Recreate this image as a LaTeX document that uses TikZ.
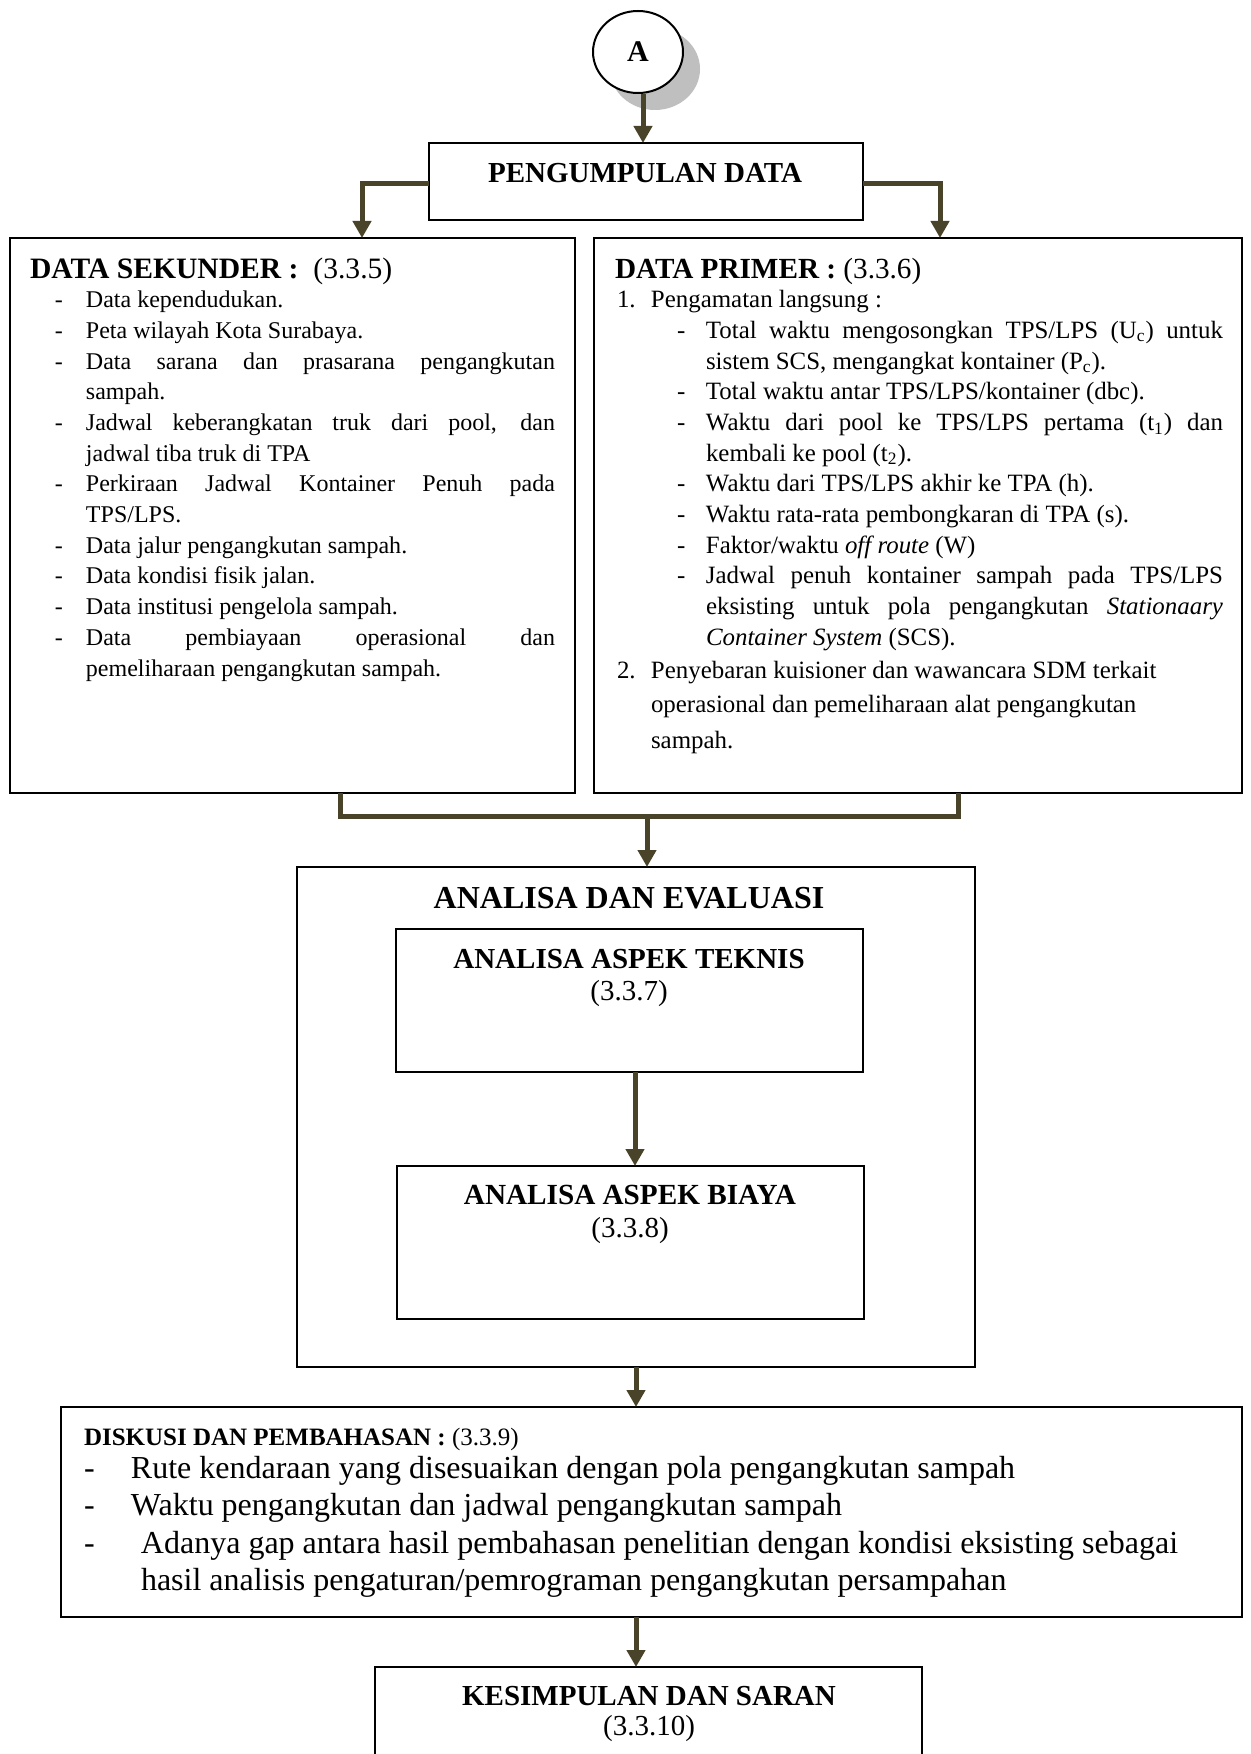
\documentclass[tikz,border=0pt]{standalone}
\usepackage{fontspec}
\setmainfont{Liberation Serif}
\usetikzlibrary{arrows.meta,shapes.geometric,shadows}
\definecolor{arrowcol}{RGB}{73,68,41}
\definecolor{shadowgray}{RGB}{191,191,191}
\newcommand{\fsz}[2]{\fontsize{#1}{#2}\selectfont}
% left box helpers
\newcommand{\LD}[1]{\hspace*{12.5pt}\makebox[15.5pt][l]{-}#1}
\newcommand{\LJ}[1]{\hspace*{12.5pt}\makebox[15.5pt][l]{-}\makebox[234.5pt][s]{#1}}
\newcommand{\LC}[1]{\hspace*{28pt}#1}
% right box helpers
\newcommand{\RN}[2]{\hspace*{1pt}\makebox[17pt][l]{#1}#2}
\newcommand{\RD}[1]{\hspace*{31pt}\makebox[14.5pt][l]{-}#1}
\newcommand{\RJ}[1]{\hspace*{31pt}\makebox[14.5pt][l]{-}\makebox[258.5pt][s]{#1}}
\newcommand{\RJC}[1]{\hspace*{45.5pt}\makebox[258.5pt][s]{#1}}
\newcommand{\RC}[1]{\hspace*{45.5pt}#1}
\begin{document}
\begin{tikzpicture}[x=0.5pt,y=-0.5pt,
  box/.style={draw=black, line width=1pt, inner sep=0pt, outer sep=0pt, rectangle},
  conn/.style={draw=arrowcol, line width=2.5pt},
  arr/.style={conn, -{Triangle[width=9pt,length=8.5pt]}},
  lbl/.style={inner sep=0pt, outer sep=0pt},
]
\useasboundingbox (0,0) rectangle (1251,1754);
\clip (0,0) rectangle (1251,1754);
\fill[white] (0,0) rectangle (1251,1754);

% circle A
\node[ellipse, draw=black, line width=1pt, fill=white, minimum width=45pt, minimum height=41pt, inner sep=0pt,
      drop shadow={shadow xshift=8.5pt,shadow yshift=-8.5pt,fill=shadowgray,opacity=1},
      font=\fsz{15}{18}\bfseries] (A) at (638,52) {A};

% boxes
\node[box, minimum width=217pt, minimum height=38.5pt] (pd) at (646,181.5) {};
\node[box, minimum width=282.5pt, minimum height=277.5pt] (ds) at (292.5,515.5) {};
\node[box, minimum width=324pt, minimum height=277.5pt] (dp) at (918,515.5) {};
\node[box, minimum width=339pt, minimum height=250pt] (ae) at (636,1117) {};
\node[box, minimum width=233.5pt, minimum height=71.5pt] (t1) at (629.5,1000.5) {};
\node[box, minimum width=233.5pt, minimum height=76.5pt] (t2) at (630.5,1242.5) {};
\node[box, minimum width=590.5pt, minimum height=105pt] (di) at (651.5,1512) {};
\node[box, minimum width=273.5pt, minimum height=66.5pt] (ks) at (648.5,1733.5) {};

% texts
\node[lbl, anchor=base, font=\fsz{14.5}{17}\bfseries] (pdt) at (645,183) {PENGUMPULAN DATA};

\node[lbl, anchor=base west] (dst) at (30,279) {\parbox[t]{270pt}{\fsz{12}{15.35}%
{\fsz{14.8}{15.35}\textbf{DATA SEKUNDER :}\ \ (3.3.5)}\\[-1pt]
\LD{Data kependudukan.}\\
\LD{Peta wilayah Kota Surabaya.}\\
\LJ{Data sarana dan prasarana pengangkutan}\\
\LC{sampah.}\\
\LJ{Jadwal keberangkatan truk dari pool, dan}\\
\LC{jadwal tiba truk di TPA}\\
\LJ{Perkiraan Jadwal Kontainer Penuh pada}\\
\LC{TPS/LPS.}\\
\LD{Data jalur pengangkutan sampah.}\\
\LD{Data kondisi fisik jalan.}\\
\LD{Data institusi pengelola sampah.}\\
\LJ{Data pembiayaan operasional dan}\\
\LC{pemeliharaan pengangkutan sampah.}}};

\node[lbl, anchor=base west] (dpt) at (615,279) {\parbox[t]{310pt}{\fsz{12.45}{15.35}%
{\fsz{14.6}{15.35}\textbf{DATA PRIMER :} (3.3.6)}\\[-1pt]
\RN{1.}{Pengamatan langsung :}\\
\RJ{Total waktu mengosongkan TPS/LPS (U\textsubscript{c}) untuk}\\
\RC{sistem SCS, mengangkat kontainer (P\textsubscript{c}).}\\
\RD{Total waktu antar TPS/LPS/kontainer (dbc).}\\
\RJ{Waktu dari pool ke TPS/LPS pertama (t\textsubscript{1}) dan}\\
\RC{kembali ke pool (t\textsubscript{2}).}\\
\RD{Waktu dari TPS/LPS akhir ke TPA (h).}\\
\RD{Waktu rata-rata pembongkaran di TPA (s).}\\
\RD{Faktor/waktu \textit{off route} (W)}\\
\RJ{Jadwal penuh kontainer sampah pada TPS/LPS}\\
\RJC{eksisting untuk pola pengangkutan \textit{Stationaary}}\\
\RC{\textit{Container System} (SCS).}\\[1pt]
\RN{2.}{Penyebaran kuisioner dan wawancara SDM terkait}\\[2pt]
\hspace*{18pt}operasional dan pemeliharaan alat pengangkutan\\[2.5pt]
\hspace*{18pt}sampah.}};

\node[lbl, anchor=base, font=\fsz{16}{19}\bfseries] (aet) at (629,908) {ANALISA DAN EVALUASI};
\node[lbl, anchor=base, font=\fsz{14.5}{17}\bfseries] (t1a) at (629,968) {ANALISA ASPEK TEKNIS};
\node[lbl, anchor=base, font=\fsz{14.5}{17}] (t1b) at (629,1000) {(3.3.7)};
\node[lbl, anchor=base, font=\fsz{14.6}{17}\bfseries] (t2a) at (630,1204) {ANALISA ASPEK BIAYA};
\node[lbl, anchor=base, font=\fsz{14.5}{17}] (t2b) at (630,1237) {(3.3.8)};

\node[lbl, anchor=base west] (dit) at (84,1445) {\parbox[t]{580pt}{\fsz{16}{18.75}%
{\fsz{12.5}{15}\textbf{DISKUSI DAN PEMBAHASAN :} (3.3.9)}\\[-2.25pt]
\makebox[23.5pt][l]{-}Rute kendaraan yang disesuaikan dengan pola pengangkutan sampah\\
\makebox[23.5pt][l]{-}Waktu pengangkutan dan jadwal pengangkutan sampah\\
\makebox[28.5pt][l]{-}Adanya gap antara hasil pembahasan penelitian dengan kondisi eksisting sebagai\\
\hspace*{28.5pt}hasil analisis pengaturan/pemrograman pengangkutan persampahan}};

\node[lbl, anchor=base, font=\fsz{14.5}{17}\bfseries] (kst) at (649,1705) {KESIMPULAN DAN SARAN};
\node[lbl, anchor=base, font=\fsz{14.5}{17}] (ksn) at (649,1735) {(3.3.10)};

% connectors
\coordinate (a1) at ([xshift=2.5pt]A.south);
\draw[arr] (a1) -- (a1 |- pd.north);

\coordinate (lx) at (362,0);
\coordinate (rx) at (940,0);
\draw[arr] ([yshift=-1.25pt]pd.west) -| (ds.north -| lx);
\draw[arr] ([yshift=-1.25pt]pd.east) -| (dp.north -| rx);

\coordinate (mL) at (340,816);
\coordinate (mR) at (958,816);
\coordinate (mC) at (647,816);
\draw[conn] (ds.south -| mL) |- (mR) -- (dp.south -| mR);
\draw[arr] (mC) -- (mC |- ae.north);

\coordinate (ix) at (635,0);
\draw[arr] (t1.south -| ix) -- (t2.north -| ix);
\draw[arr] (ae.south) -- (ae.south |- di.north);
\draw[arr] (di.south -| ae.south) -- (ks.north -| ae.south);
\end{tikzpicture}
\end{document}
